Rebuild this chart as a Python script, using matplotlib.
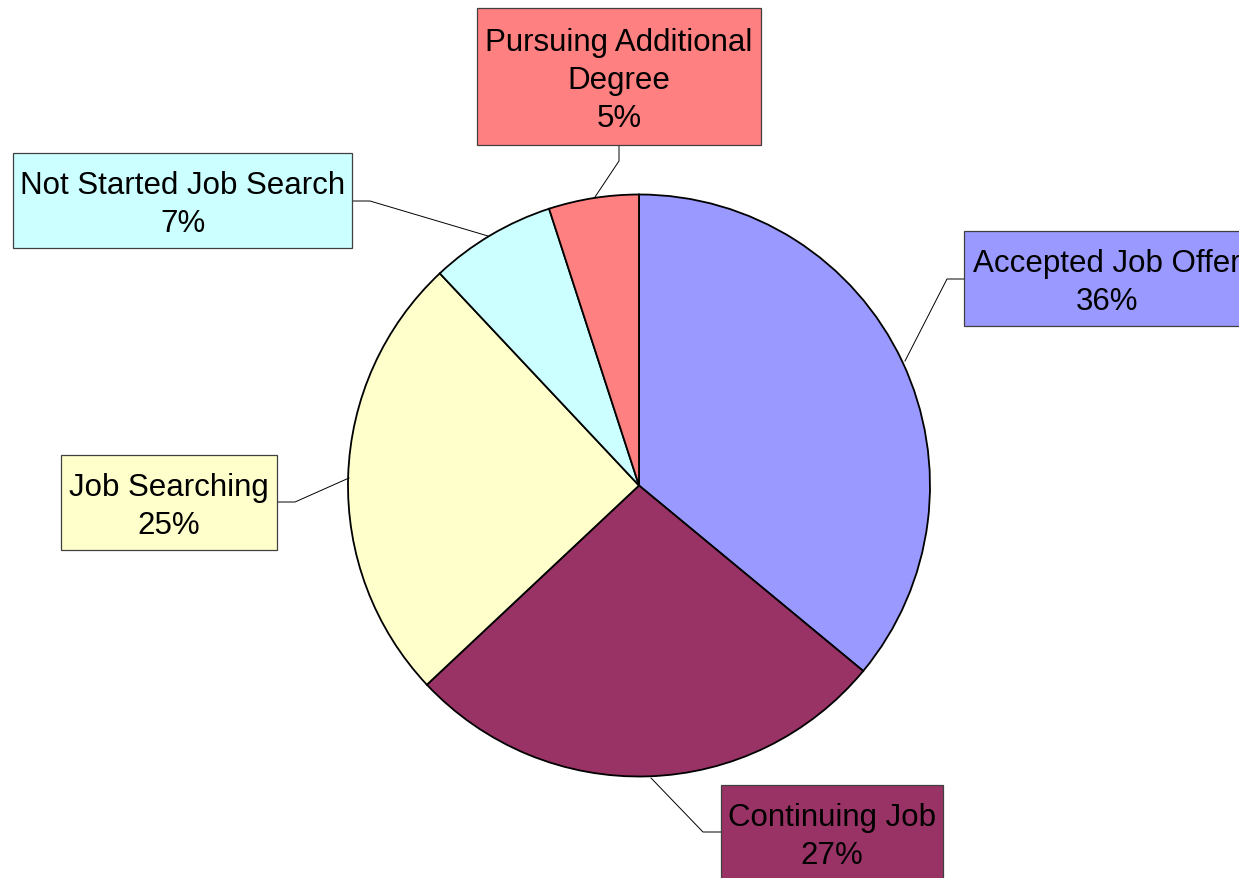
import matplotlib
matplotlib.use("Agg")
import matplotlib.pyplot as plt
from matplotlib.patches import Rectangle

categories = ["Accepted Job Offer", "Continuing Job", "Job Searching",
              "Not Started Job Search", "Pursuing Additional\nDegree"]
values = [36, 27, 25, 7, 5]
colors = ["#9999FF", "#993366", "#FFFFCC", "#CCFFFF", "#FF8080"]

W, H = 1239, 879
fig = plt.figure(figsize=(W / 100, H / 100), dpi=100)
ax = fig.add_axes([0, 0, 1, 1])
ax.set_xlim(0, W)
ax.set_ylim(0, H)
ax.set_aspect("equal")
ax.axis("off")

def Y(py):
    return H - py

cx, cy, r = 639, 486.5, 291
ax.pie(values, colors=colors, startangle=90, counterclock=False,
       center=(cx, Y(cy)), radius=r, frame=True,
       wedgeprops=dict(edgecolor="black", linewidth=1.3))
ax.set_xlim(0, W)
ax.set_ylim(0, H)
ax.axis("off")

# label boxes: (x0, y0, x1, y1) in pixel coords (y down)
boxes = [
    (964, 232, 1250, 327),
    (721, 786, 943, 881),
    (61, 456, 277, 551),
    (13, 154, 352, 249),
    (477, 9, 761, 146),
]
# leader lines (pixel coords)
leaders = [
    [(964, 280), (947, 280), (905, 362)],
    [(721, 833), (703, 833), (651, 779)],
    [(277, 503), (295, 503), (349, 479)],
    [(352, 202), (370, 202), (488, 237)],
    [(619, 146), (619, 162), (595, 198)],
]

for cat, v, col, (x0, y0, x1, y1), pts in zip(categories, values, colors, boxes, leaders):
    ax.add_patch(Rectangle((x0, Y(y1)), x1 - x0, y1 - y0, facecolor=col,
                           edgecolor="#404040", linewidth=0.9, zorder=3))
    ax.text((x0 + x1) / 2, Y((y0 + y1) / 2) - 3.5, f"{cat}\n{v}%",
            ha="center", va="center", multialignment="center",
            fontsize=22.5, family="Liberation Sans", color="black",
            linespacing=1.36, zorder=4)
    xs = [p[0] for p in pts]
    ys = [Y(p[1]) for p in pts]
    ax.plot(xs, ys, color="black", linewidth=0.7, zorder=2)

fig.savefig("out.png", dpi=100)
